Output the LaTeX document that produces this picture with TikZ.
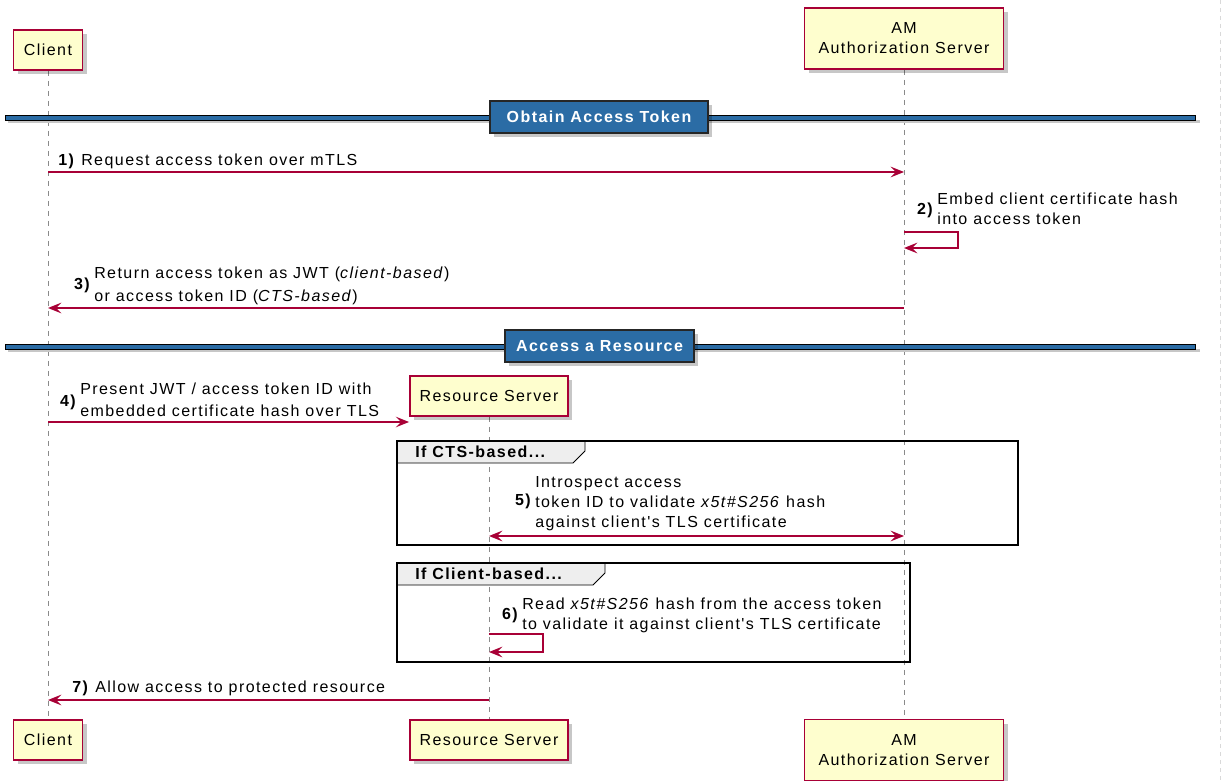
\documentclass[tikz,border=0pt]{standalone}
\usepackage{fontspec}
\setmainfont[LetterSpace=9,Ligatures=TeXOff]{Liberation Sans}
\usetikzlibrary{arrows.meta,shadows,backgrounds}
\definecolor{amred}{HTML}{A80036}
\definecolor{partfill}{HTML}{FEFECE}
\definecolor{divblue}{HTML}{2B6CA5}
\definecolor{tabgray}{HTML}{EEEEEE}
\definecolor{lifegray}{HTML}{8A8A8A}
\begin{document}
\begin{tikzpicture}[x=0.75pt,y=-0.75pt,
  font=\fontsize{12}{15}\selectfont,
  >={Stealth[length=10pt,width=8pt,inset=4pt]},
  part/.style={draw=amred, fill=partfill, line width=1.4pt, inner sep=0pt, align=center,
    drop shadow={shadow xshift=3pt, shadow yshift=-3pt, fill=black, opacity=0.22}},
  life/.style={draw=lifegray, line width=0.7pt, dash pattern=on 3.75pt off 3.75pt},
  msg/.style={draw=amred, line width=1.1pt, ->},
  lbl/.style={anchor=base west, inner sep=0pt},
  num/.style={anchor=base east, inner sep=0pt, font=\fontsize{12}{15}\selectfont\bfseries},
  divbox/.style={draw=black!85, line width=1.3pt, fill=divblue, text=white, inner sep=0pt,
    font=\fontsize{12}{15}\selectfont\bfseries,
    drop shadow={shadow xshift=3pt, shadow yshift=-3pt, fill=black, opacity=0.22}},
  divband/.style={draw=black, line width=0.6pt, fill=divblue},
  frame/.style={draw=black, line width=1.5pt},
  tab/.style={draw=black, line width=0.7pt, fill=tabgray},
  tabtxt/.style={anchor=base west, inner sep=0pt, font=\fontsize{12}{15}\selectfont\bfseries}
]
\useasboundingbox (0,0) rectangle (1222,781);
\begin{pgfonlayer}{background}
\fill[white] (0,0) rectangle (1222,781);
\end{pgfonlayer}
\draw[gray!30, line width=0.5pt, dash pattern=on 3pt off 3pt] (1220.5,0) -- (1220.5,781);

% participants
\node[part, minimum width=51.75pt, minimum height=30pt] (cT) at (48,50) {Client};
\node[part, minimum width=149.25pt, minimum height=45.75pt] (aT) at (904,38.5) {AM\\Authorization Server};
\node[part, minimum width=118.5pt, minimum height=30pt] (rT) at (489,396) {Resource Server};
\node[part, minimum width=51.75pt, minimum height=30pt] (cB) at (48,740) {Client};
\node[part, minimum width=118.5pt, minimum height=30pt] (rB) at (489,740) {Resource Server};
\node[part, minimum width=149.25pt, minimum height=45.75pt] (aB) at (904,750) {AM\\Authorization Server};

\begin{pgfonlayer}{background}
\draw[life] (cT.south) -- (cB.north);
\draw[life] (aT.south) -- (aB.north);
\draw[life] (rT.south) -- (rB.north);
\end{pgfonlayer}

% divider 1
\fill[black!22] (8,120) rectangle (1200,123);
\draw[divband] (5,115) rectangle (1195,120);
\node[divbox, minimum width=163.5pt, minimum height=24pt] (d1) at (599,117) {Obtain Access Token};
% divider 2
\fill[black!22] (8,349) rectangle (1200,352);
\draw[divband] (5,344) rectangle (1195,349);
\node[divbox, minimum width=141.75pt, minimum height=24pt] (d2) at (599.5,346) {Access a Resource};

% message coordinates
\coordinate (m1) at (0,172);
\coordinate (m2) at (0,232);
\coordinate (m3) at (0,308);
\coordinate (m4) at (0,422);
\coordinate (m5) at (0,536);
\coordinate (m6) at (0,634);
\coordinate (m7) at (0,700);

% 1
\draw[msg] (cT |- m1) -- (aT |- m1);
\node[lbl] (t1) at (58,166) {\textbf{1)} Request access token over mTLS};
% 2
\draw[msg] (aT |- m2) -- ++(54,0) -- ++(0,16) -- ++(-54,0);
\node[num] (n2) at (933,215) {2)};
\node[lbl] (t2a) at (937,205) {Embed client certificate hash};
\node[lbl] (t2b) at (937,225) {into access token};
% 3
\draw[msg] (aT |- m3) -- (cT |- m3);
\node[num] (n3) at (90,290) {3)};
\node[lbl] (t3a) at (94,279) {Return access token as JWT (\textit{client-based})};
\node[lbl] (t3b) at (94,301) {or access token ID (\textit{CTS-based})};
% 4
\draw[msg] (cT |- m4) -- (rT.west |- m4);
\node[num] (n4) at (76,406) {4)};
\node[lbl] (t4a) at (80,394) {Present JWT / access token ID with};
\node[lbl] (t4b) at (80,416) {embedded certificate hash over TLS};

% group 1
\draw[tab] (397,441) -- (585,441) -- (585,451) -- (573,463) -- (397,463) -- cycle;
\draw[frame] (397,441) rectangle (1018,545);
\node[tabtxt] (g1) at (415,457) {If CTS-based...};
% 5
\draw[msg, <->] (rT |- m5) -- (aT |- m5);
\node[num] (n5) at (531,505) {5)};
\node[lbl] (t5a) at (535,487) {Introspect access};
\node[lbl] (t5b) at (535,507) {token ID to validate \textit{x5t\#S256} hash};
\node[lbl] (t5c) at (535,527) {against client's TLS certificate};

% group 2
\draw[tab] (397,563) -- (605,563) -- (605,573) -- (593,585) -- (397,585) -- cycle;
\draw[frame] (397,563) rectangle (910,662);
\node[tabtxt] (g2) at (415,579) {If Client-based...};
% 6
\draw[msg] (rT |- m6) -- ++(54,0) -- ++(0,18) -- ++(-54,0);
\node[num] (n6) at (518,619) {6)};
\node[lbl] (t6a) at (522,609) {Read \textit{x5t\#S256} hash from the access token};
\node[lbl] (t6b) at (522,629) {to validate it against client's TLS certificate};

% 7
\draw[msg] (rT |- m7) -- (cT |- m7);
\node[lbl] (t7) at (72,692) {\textbf{7)} Allow access to protected resource};
\end{tikzpicture}
\end{document}
